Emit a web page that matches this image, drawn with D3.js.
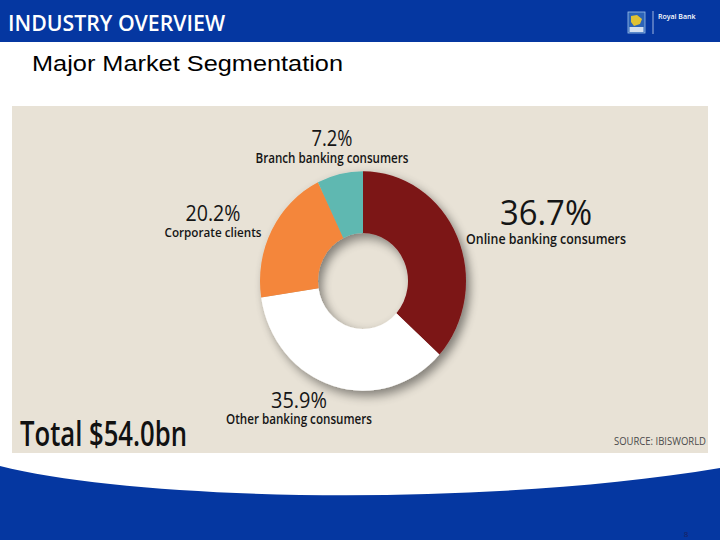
<!DOCTYPE html>
<html>
<head>
<meta charset="utf-8">
<script src="https://cdn.jsdelivr.net/npm/d3@7"></script>
<style>
  body { margin: 0; background: #fff; }
  svg { display: block; }
</style>
</head>
<body>
<div id="chart"></div>
<script>
// segment data
const segments = ["Online banking consumers", "Other banking consumers", "Corporate clients", "Branch banking consumers"];
const shares = [36.7, 35.9, 20.2, 7.2];
const segmentColors = ["#7b1416", "#ffffff", "#f4863a", "#5fb8b1"];
const totalLabel = "Total $54.0bn";
const sourceLabel = "SOURCE: IBISWORLD";
const pageTitle = "INDUSTRY OVERVIEW";
const slideTitle = "Major Market Segmentation";

var W = 720, H = 540;
var blue = "#0537a1";
var labelFont = "'Open Sans', 'DejaVu Sans', sans-serif";

var svg = d3.select("#chart").append("svg")
  .attr("width", W)
  .attr("height", H);

var defs = svg.append("defs");
var shadow = defs.append("filter")
  .attr("id", "shadow")
  .attr("x", "-30%").attr("y", "-30%")
  .attr("width", "160%").attr("height", "160%");
shadow.append("feGaussianBlur").attr("in", "SourceAlpha").attr("stdDeviation", 5).attr("result", "blur");
shadow.append("feOffset").attr("in", "blur").attr("dx", 4).attr("dy", 5).attr("result", "off");
shadow.append("feComponentTransfer").attr("in", "off").attr("result", "soft")
  .append("feFuncA").attr("type", "linear").attr("slope", 0.45);
var merge = shadow.append("feMerge");
merge.append("feMergeNode").attr("in", "soft");
merge.append("feMergeNode").attr("in", "SourceGraphic");

// header band
svg.append("rect")
  .attr("x", 0).attr("y", 0)
  .attr("width", W).attr("height", 42)
  .attr("fill", blue);

svg.append("text")
  .attr("x", 8).attr("y", 31)
  .attr("fill", "#fff")
  .style("font-family", labelFont)
  .style("font-size", "21px")
  .style("font-weight", 600)
  .attr("textLength", 217)
  .attr("lengthAdjust", "spacingAndGlyphs")
  .text(pageTitle);

// small logo
var logo = svg.append("g").attr("transform", "translate(628,12)");
logo.append("rect").attr("width", 17).attr("height", 21).attr("fill", "#2c64b8").attr("stroke", "#9fc1e8").attr("stroke-width", 0.8);
logo.append("path").attr("d", "M3,4 L9,3 L14,7 L12,12 L6,14 L3,10 Z").attr("fill", "#e0c233");
logo.append("rect").attr("x", 1.5).attr("y", 15).attr("width", 14).attr("height", 5).attr("fill", "#fff").attr("opacity", 0.8);
svg.append("line")
  .attr("x1", 653).attr("x2", 653).attr("y1", 11).attr("y2", 34)
  .attr("stroke", "#c8d6f0").attr("stroke-width", 0.8);
svg.append("text")
  .attr("x", 658).attr("y", 19)
  .attr("fill", "#fff")
  .style("font-family", labelFont)
  .style("font-size", "7px")
  .style("font-weight", 600)
  .text("Royal Bank");

svg.append("text")
  .attr("x", 32).attr("y", 71)
  .attr("fill", "#000")
  .style("font-family", "'Liberation Sans', Arial, sans-serif")
  .style("font-size", "22px")
  .attr("textLength", 311)
  .attr("lengthAdjust", "spacingAndGlyphs")
  .text(slideTitle);

// beige chart panel
svg.append("rect")
  .attr("x", 12).attr("y", 106)
  .attr("width", 696).attr("height", 347)
  .attr("fill", "#e8e2d6");

// footer wave
svg.append("path")
  .attr("d", "M0,466 C140,501 480,508 720,468 L720,540 L0,540 Z")
  .attr("fill", blue);

svg.append("text")
  .attr("x", 686).attr("y", 537)
  .attr("text-anchor", "middle")
  .attr("fill", "#1b1f5c")
  .style("font-family", labelFont)
  .style("font-size", "8px")
  .text("8");

// donut
var data = segments.map((s, i) => ({ name: s, share: shares[i], color: segmentColors[i] }));

var pie = d3.pie()
  .sort(null)
  .value(d => d.share);

var arc = d3.arc()
  .innerRadius(45)
  .outerRadius(103);

var donut = svg.append("g")
  .attr("transform", "translate(363,281) scale(1,1.065)")
  .attr("filter", "url(#shadow)");

donut.selectAll("path")
  .data(pie(data))
  .enter().append("path")
  .attr("d", arc)
  .attr("fill", d => d.data.color);

// label placement (centre x, baselines, font sizes, widths)
var labelLayout = {
  "Online banking consumers": { x: 546, py: 225, ps: 35, pw: 92, ny: 244, ns: 14, nw: 160 },
  "Other banking consumers": { x: 299, py: 408, ps: 21, pw: 56, ny: 424, ns: 14, nw: 146 },
  "Corporate clients": { x: 213, py: 221, ps: 21, pw: 55, ny: 237, ns: 13, nw: 97 },
  "Branch banking consumers": { x: 332, py: 146, ps: 21, pw: 41, ny: 163, ns: 13.5, nw: 153 }
};

var labels = svg.selectAll(".seg-label")
  .data(data)
  .enter().append("g")
  .attr("class", "seg-label");

labels.append("text")
  .attr("x", d => labelLayout[d.name].x)
  .attr("y", d => labelLayout[d.name].py)
  .attr("text-anchor", "middle")
  .attr("fill", "#151515")
  .style("font-family", labelFont)
  .style("font-size", d => labelLayout[d.name].ps + "px")
  .style("font-weight", 500)
  .attr("textLength", d => labelLayout[d.name].pw)
  .attr("lengthAdjust", "spacingAndGlyphs")
  .text(d => d.share.toFixed(1) + "%");

labels.append("text")
  .attr("x", d => labelLayout[d.name].x)
  .attr("y", d => labelLayout[d.name].ny)
  .attr("text-anchor", "middle")
  .attr("fill", "#151515")
  .style("font-family", labelFont)
  .style("font-size", d => labelLayout[d.name].ns + "px")
  .style("font-weight", 600)
  .attr("textLength", d => labelLayout[d.name].nw)
  .attr("lengthAdjust", "spacingAndGlyphs")
  .text(d => d.name);

svg.append("text")
  .attr("x", 20).attr("y", 446)
  .attr("fill", "#111")
  .style("font-family", labelFont)
  .style("font-size", "35px")
  .style("font-weight", 600)
  .attr("textLength", 167)
  .attr("lengthAdjust", "spacingAndGlyphs")
  .text(totalLabel);

svg.append("text")
  .attr("x", 706).attr("y", 445)
  .attr("text-anchor", "end")
  .attr("fill", "#4a4a4a")
  .style("font-family", labelFont)
  .style("font-size", "10px")
  .attr("textLength", 92)
  .attr("lengthAdjust", "spacingAndGlyphs")
  .text(sourceLabel);
</script>
</body>
</html>
